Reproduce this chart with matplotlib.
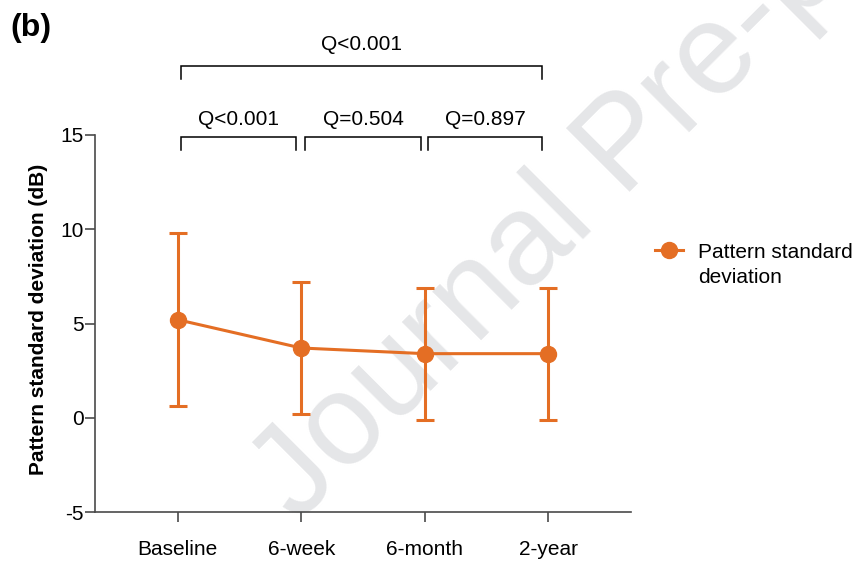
import matplotlib
matplotlib.use("Agg")
import matplotlib.pyplot as plt
from matplotlib.offsetbox import HPacker

plt.rcParams["font.family"] = ["Liberation Sans", "DejaVu Sans"]
plt.rcParams["axes.unicode_minus"] = False

# Data
timepoints = ["Baseline", "6-week", "6-month", "2-year"]
psd_mean = [5.2, 3.7, 3.4, 3.4]
psd_sd = [4.6, 3.5, 3.5, 3.5]
yticks = [-5, 0, 5, 10, 15]
pair_labels = ["Q<0.001", "Q=0.504", "Q=0.897"]
overall_label = "Q<0.001"
series_label = "Pattern standard\ndeviation"

orange = "#E46E24"
axis_col = "#4a4a4a"
fs = 15

fig = plt.figure(figsize=(8.58, 5.65), dpi=100)

# Watermark behind everything
fig.text(298 / 858, 1 - 524 / 565, "Journal Pre-proof", fontsize=93,
         rotation=45, rotation_mode="anchor", ha="left", va="baseline",
         color="#e5e6e8", zorder=-5)

ax = fig.add_axes([95 / 858, 1 - 512 / 565, (631 - 95) / 858, (512 - 135) / 565])
ax.patch.set_visible(False)

x = list(range(len(timepoints)))
ax.errorbar(x, psd_mean, yerr=psd_sd, fmt="none", ecolor=orange,
            elinewidth=2.2, capsize=6.3, capthick=2.2, zorder=3)
line, = ax.plot(x, psd_mean, "-o", color=orange, lw=2.2, ms=11.5,
                label=series_label, zorder=4)

ax.set_xlim(-0.67, 3.67)
ax.set_ylim(-5, 15)
ax.set_xticks(x)
ax.set_xticklabels(timepoints, fontsize=fs)
ax.set_yticks(yticks)
ax.set_yticklabels([str(t) for t in yticks], fontsize=fs)

for side in ("top", "right"):
    ax.spines[side].set_visible(False)
for side in ("left", "bottom"):
    ax.spines[side].set_color(axis_col)
    ax.spines[side].set_linewidth(1.2)
ax.tick_params(axis="y", length=7, width=1.2, color=axis_col, pad=1)
ax.tick_params(axis="x", length=7.5, width=1.2, color=axis_col, pad=13)

ax.set_ylabel("Pattern standard deviation (dB)", fontsize=fs, fontweight="bold")
ax.yaxis.set_label_coords(-0.088, 0.512)

# Significance brackets
def bracket(x0, x1, ytop, ybot, text, ytext):
    ax.plot([x0, x0, x1, x1], [ybot, ytop, ytop, ybot], color="black",
            lw=1.1, clip_on=False, solid_joinstyle="miter")
    ax.text((x0 + x1) / 2, ytext, text, ha="center", va="baseline",
            fontsize=fs, clip_on=False)

pairs = [(0.025, 0.96), (1.03, 1.97), (2.03, 2.95)]
for (a, b), lab in zip(pairs, pair_labels):
    bracket(a, b, 14.9, 14.2, lab, 15.55)
bracket(0.025, 2.95, 18.65, 17.97, overall_label, 19.5)

leg = fig.legend(handles=[line], loc="upper left",
                 bbox_to_anchor=(655 / 858, 1 - 243 / 565), frameon=False,
                 fontsize=fs, handlelength=1.35, handletextpad=0.72,
                 borderpad=0, borderaxespad=0)
for t in leg.get_texts():
    t.set_linespacing(1.4)
# keep the marker level with the first line of the label
for hp in leg.findobj(HPacker):
    hp.align = "top"

fig.text(10 / 858, 1 - 36 / 565, "(b)", fontsize=23, fontweight="bold",
         ha="left", va="baseline")

fig.savefig("out.png", dpi=100)
